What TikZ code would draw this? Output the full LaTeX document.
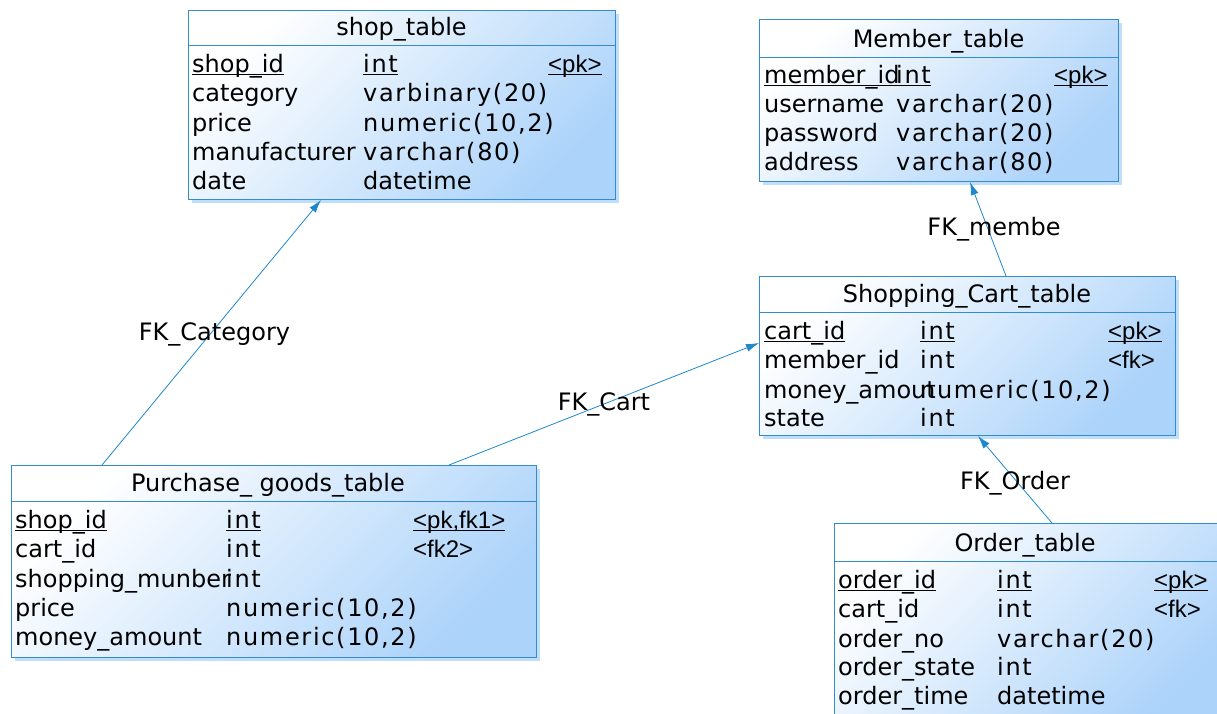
\documentclass[tikz,border=0pt]{standalone}
\usepackage{fontspec}
\setmainfont{DejaVu Sans}
\newfontfamily\typefont[LetterSpace=7]{DejaVu Sans}
\newfontfamily\keyfont{Liberation Sans}
\usetikzlibrary{arrows.meta,shadows}
\definecolor{tblblue}{RGB}{52,140,206}
\definecolor{tblfill}{RGB}{172,211,250}
\definecolor{tblshadow}{RGB}{192,222,247}
\definecolor{fkblue}{RGB}{30,136,204}
\newcommand\pkline[1]{\setbox0\hbox{#1}\rlap{\rule[-3pt]{\wd0}{0.9pt}}\box0}

\tikzset{
  tbl/.style={draw=tblblue, line width=1pt, rectangle, inner sep=0pt, anchor=north west,
    top color=white, bottom color=tblfill, shading angle=45,
    drop shadow={shadow xshift=3pt, shadow yshift=-3pt, fill=tblshadow, opacity=1}},
  tblline/.style={draw=tblblue, line width=1pt},
  ttl/.style={anchor=base, inner sep=0pt, font=\fontsize{24}{29}\selectfont},
  fld/.style={anchor=base west, inner sep=0pt, font=\fontsize{24}{29}\selectfont},
  typ/.style={anchor=base west, inner sep=0pt, font=\fontsize{24}{29}\selectfont\typefont},
  key/.style={anchor=base west, inner sep=0pt, font=\fontsize{24}{29}\selectfont\keyfont},
  fk/.style={draw=fkblue, line width=0.8pt, -{Latex[length=13pt,width=8pt]}},
  lbl/.style={inner sep=0pt, font=\fontsize{24}{29}\selectfont, text=black}
}

\begin{document}
\begin{tikzpicture}[x=1pt,y=-1pt]
    \useasboundingbox (0,0) rectangle (1217,713);
    \clip (0,0) rectangle (1217,713);

    % shop_table
    \node[tbl, minimum width=427pt, minimum height=189pt] (shop) at (188,10) {};
    \draw[tblline] ([yshift=-35pt]shop.north west) -- ([yshift=-35pt]shop.north east);
    \node[ttl] (shopT) at (401.5,35) {shop\_table};
    \node[fld] (shop1n) at (192,72)  {\pkline{shop\_id}};
    \node[typ] (shop1t) at (363,72)  {\pkline{int}};
    \node[key] (shop1k) at (548,72)  {\pkline{<pk>}};
    \node[fld] (shop2n) at (192,101) {category};
    \node[typ] (shop2t) at (363,101) {varbinary(20)};
    \node[fld] (shop3n) at (192,131) {price};
    \node[typ] (shop3t) at (363,131) {numeric(10,2)};
    \node[fld] (shop4n) at (192,160) {manufacturer};
    \node[typ] (shop4t) at (363,160) {varchar(80)};
    \node[fld] (shop5n) at (192,189) {date};
    \node[fld] (shop5t) at (363,189) {datetime};

    % Member_table
    \node[tbl, minimum width=359pt, minimum height=162pt] (member) at (759,19) {};
    \draw[tblline] ([yshift=-38pt]member.north west) -- ([yshift=-38pt]member.north east);
    \node[ttl] (memberT) at (938.5,47) {Member\_table};
    \node[fld] (member1n) at (764,83)  {\pkline{member\_id}};
    \node[typ] (member1t) at (896,83)  {\pkline{int}};
    \node[key] (member1k) at (1054,83) {\pkline{<pk>}};
    \node[fld] (member2n) at (764,112) {username};
    \node[typ] (member2t) at (896,112) {varchar(20)};
    \node[fld] (member3n) at (764,141) {password};
    \node[typ] (member3t) at (896,141) {varchar(20)};
    \node[fld] (member4n) at (764,170) {address};
    \node[typ] (member4t) at (896,170) {varchar(80)};

    % Shopping_Cart_table
    \node[tbl, minimum width=416pt, minimum height=159pt] (cart) at (759,276) {};
    \draw[tblline] ([yshift=-36pt]cart.north west) -- ([yshift=-36pt]cart.north east);
    \node[ttl] (cartT) at (967,302) {Shopping\_Cart\_table};
    \node[fld] (cart1n) at (764,339)  {\pkline{cart\_id}};
    \node[typ] (cart1t) at (920,339)  {\pkline{int}};
    \node[key] (cart1k) at (1108,339) {\pkline{<pk>}};
    \node[fld] (cart2n) at (764,368)  {member\_id};
    \node[typ] (cart2t) at (920,368)  {int};
    \node[key] (cart2k) at (1108,368) {<fk>};
    \node[fld] (cart3n) at (764,398)  {money\_amout};
    \node[typ] (cart3t) at (920,398)  {numeric(10,2)};
    \node[fld] (cart4n) at (764,426)  {state};
    \node[typ] (cart4t) at (920,426)  {int};

    % Purchase_ goods_table
    \node[tbl, minimum width=525pt, minimum height=192pt] (purch) at (11,465) {};
    \draw[tblline] ([yshift=-36pt]purch.north west) -- ([yshift=-36pt]purch.north east);
    \node[ttl] (purchT) at (268,491) {Purchase\_ goods\_table};
    \node[fld] (purch1n) at (15,528)  {\pkline{shop\_id}};
    \node[typ] (purch1t) at (226,528) {\pkline{int}};
    \node[key] (purch1k) at (413,528) {\pkline{<pk,fk1>}};
    \node[fld] (purch2n) at (15,557)  {cart\_id};
    \node[typ] (purch2t) at (226,557) {int};
    \node[key] (purch2k) at (413,557) {<fk2>};
    \node[fld] (purch3n) at (15,587)  {shopping\_munber};
    \node[typ] (purch3t) at (226,587) {int};
    \node[fld] (purch4n) at (15,616)  {price};
    \node[typ] (purch4t) at (226,616) {numeric(10,2)};
    \node[fld] (purch5n) at (15,645)  {money\_amount};
    \node[typ] (purch5t) at (226,645) {numeric(10,2)};

    % Order_table
    \node[tbl, minimum width=384pt, minimum height=210pt] (order) at (834,523) {};
    \draw[tblline] ([yshift=-38pt]order.north west) -- ([yshift=-38pt]order.north east);
    \node[ttl] (orderT) at (1025,551) {Order\_table};
    \node[fld] (order1n) at (838,588)  {\pkline{order\_id}};
    \node[typ] (order1t) at (997,588)  {\pkline{int}};
    \node[key] (order1k) at (1154,588) {\pkline{<pk>}};
    \node[fld] (order2n) at (838,617)  {cart\_id};
    \node[typ] (order2t) at (997,617)  {int};
    \node[key] (order2k) at (1154,617) {<fk>};
    \node[fld] (order3n) at (838,647)  {order\_no};
    \node[typ] (order3t) at (997,647)  {varchar(20)};
    \node[fld] (order4n) at (838,675)  {order\_state};
    \node[typ] (order4t) at (997,675)  {int};
    \node[fld] (order5n) at (838,704)  {order\_time};
    \node[fld] (order5t) at (997,704)  {datetime};

    % references
    \draw[fk] ([xshift=91pt]purch.north west) -- ([xshift=133pt]shop.south west)
        node[lbl,pos=0.5,xshift=3pt,yshift=-2pt] (fkCategory) {FK\_Category};
    \draw[fk] ([xshift=438pt]purch.north west) -- ([yshift=-67pt]cart.north west)
        node[lbl,pos=0.5] (fkCart) {FK\_Cart};
    \draw[fk] ([xshift=247pt]cart.north west) -- ([xshift=211pt]member.south west)
        node[lbl,pos=0.5,xshift=6pt] (fkMember) {FK\_membe};
    \draw[fk] ([xshift=218pt]order.north west) -- ([xshift=219pt]cart.south west)
        node[lbl,pos=0.5,yshift=-4pt] (fkOrder) {FK\_Order};
\end{tikzpicture}
\end{document}
